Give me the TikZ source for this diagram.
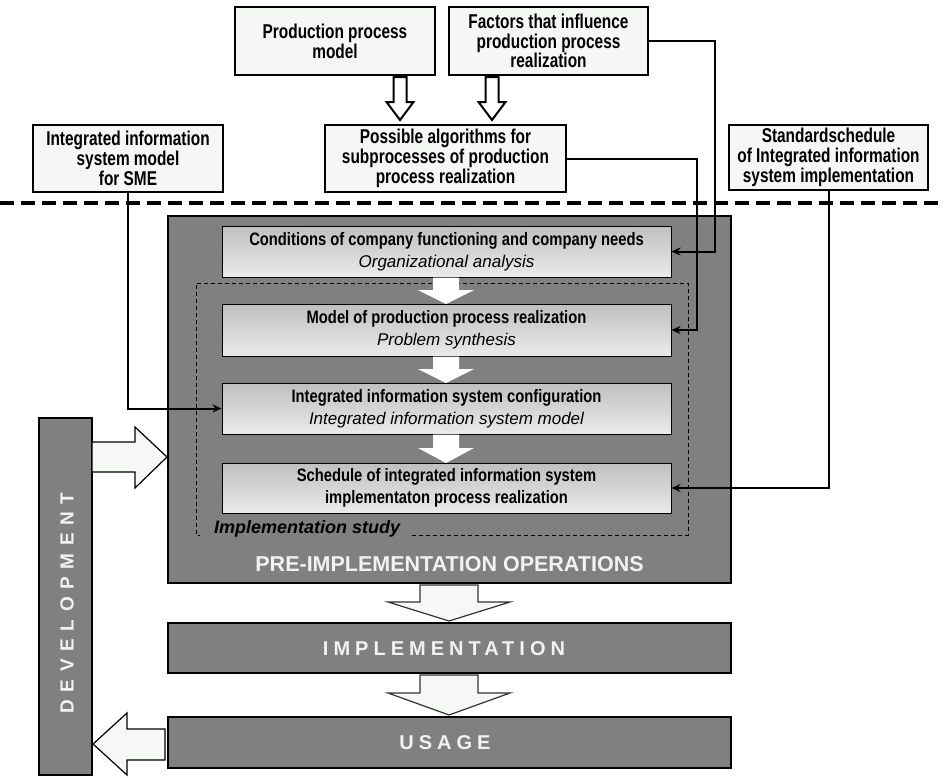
\documentclass[tikz,border=0pt]{standalone}
\usepackage{fontspec}
\setmainfont{Liberation Sans}
\newfontfamily\narrowf[FakeStretch=0.77]{Liberation Sans}
\newfontfamily\midf[FakeStretch=0.82]{Liberation Sans}
\newfontfamily\spacedf[LetterSpace=25]{Liberation Sans}
\newfontfamily\devf[LetterSpace=40]{Liberation Sans}
\usetikzlibrary{arrows.meta,calc}
\definecolor{boxwhite}{HTML}{F5F7F5}
\definecolor{boxgray}{HTML}{808080}
\definecolor{arrowwhite}{HTML}{F6F8F6}
\definecolor{wtext}{HTML}{F2F2F2}
\newcommand{\blockdown}[7]{%
  \draw[#1] ({#2-#6},#3) -- ({#2+#6},#3) -- ({#2+#6},#4) -- ({#2+#7},#4) -- (#2,#5)
    -- ({#2-#7},#4) -- ({#2-#6},#4) -- cycle;}
\begin{document}
\begin{tikzpicture}[x=1pt,y=-1pt,
  topbox/.style={draw=black, line width=2.2pt, fill=boxwhite, align=center,
    font=\narrowf\bfseries\fontsize{20}{19.8}\selectfont, inner sep=2pt},
  innerbox/.style={draw=black, line width=1pt, top color=black!25, bottom color=black!8,
    minimum width=449, align=center, font=\fontsize{17}{22}\selectfont, inner sep=1pt},
  titlef/.style={},
  graybox/.style={draw=black, line width=1.5pt, fill=boxgray},
  bigtext/.style={text=wtext, font=\spacedf\bfseries\fontsize{20}{24}\selectfont},
  conn/.style={line width=2pt, -{Stealth[length=9pt,width=8pt]}},
  hollow/.style={draw=black, line width=2pt, fill=white},
  fatarrow/.style={draw=black!80, line width=1.2pt, fill=arrowwhite, line join=miter},
  innerarrow/.style={fill=white, draw=none}
]
\useasboundingbox (0,0) rectangle (944,777);

% ---- top boxes
\node[topbox, minimum width=200, minimum height=68] (ppm) at (335,41) {Production process\\model};
\node[topbox, minimum width=199, minimum height=68] (fac) at (548.5,41) {Factors that influence\\production process\\realization};
\node[topbox, minimum width=241, minimum height=67] (alg) at (445.5,158.5) {Possible algorithms for\\subprocesses of production\\process realization};
\node[topbox, minimum width=190, minimum height=67] (sme) at (128,158.5) {Integrated information\\system model\\for SME};
\node[topbox, minimum width=199, minimum height=65] (std) at (828.5,157.5) {Standardschedule\\of Integrated information\\system implementation};

\blockdown{hollow}{400}{77}{102}{120}{6.5}{13.5}
\blockdown{hollow}{492}{77}{102}{120}{6.5}{13.5}

% ---- separator
\draw[line width=4pt, dash pattern=on 14pt off 7pt] (0,203) -- (944,203);

% ---- pre-implementation block
\node[graybox, minimum width=563, minimum height=367] (pre) at (449.5,399.5) {};
\draw[line width=0.9pt, dash pattern=on 4pt off 3pt]
  (412,535) -- (688,535) -- (688,283) -- (196,283) -- (196,535) -- (200,535);
\node[anchor=west, font=\bfseries\itshape\fontsize{18}{20}\selectfont, inner sep=0pt] (study) at (214,529) {Implementation study};
\node[bigtext, font=\bfseries\fontsize{21.5}{24}\selectfont] (pretext) at (449.5,564.5) {PRE-IMPLEMENTATION OPERATIONS};

\node[innerbox, minimum height=51] (cond) at (446.5,251.5)
  {{\midf\bfseries\fontsize{18}{22}\selectfont Conditions of company functioning and company needs}\\{\itshape Organizational analysis}};
\node[innerbox, minimum height=52] (model) at (446.5,330)
  {{\midf\bfseries\fontsize{18}{22}\selectfont Model of production process realization}\\{\itshape Problem synthesis}};
\node[innerbox, minimum height=51] (config) at (446.5,408.5)
  {{\midf\bfseries\fontsize{18}{22}\selectfont Integrated information system configuration}\\{\itshape Integrated information system model}};
\node[innerbox, minimum height=50] (sched) at (446.5,488)
  {{\midf\bfseries\fontsize{18}{22}\selectfont Schedule of integrated information system}\\{\midf\bfseries\fontsize{18}{22}\selectfont implementaton process realization}};

\blockdown{innerarrow}{446}{277.5}{290}{304}{13}{28}
\blockdown{innerarrow}{446}{356.5}{369}{383}{13}{28}
\blockdown{innerarrow}{446}{434.5}{448}{463}{13}{28}

% ---- connectors
\draw[conn] (fac.east) -| ($(cond.east)+(43,0)$) -- (cond.east);
\draw[conn] (alg.east) -| ($(model.east)+(25,0)$) -- (model.east);
\draw[conn] (sme.south) |- (config.west);
\draw[conn] (std.south) |- (sched.east);

% ---- implementation and usage
\node[graybox, minimum width=563, minimum height=50] (impl) at (449.5,648) {};
\node[bigtext] (impltext) at (444,648.5) {IMPLEMENTATION};
\node[graybox, minimum width=563, minimum height=51] (usage) at (449.5,742.5) {};
\node[bigtext] (usagetext) at (445,743) {USAGE};

\blockdown{fatarrow}{449}{585}{602}{621}{29}{61}
\blockdown{fatarrow}{449}{675}{693}{715}{29}{61}

% ---- development
\node[graybox, minimum width=53, minimum height=357] (dev) at (65.5,596.5) {};
\node[rotate=90, text=wtext, font=\devf\bfseries\fontsize{19}{22}\selectfont] (devtext) at (67,603) {DEVELOPMENT};

\draw[fatarrow, draw=black] (92,442) -- (135,442) -- (135,427) -- (167,457) -- (135,488) -- (135,472) -- (92,472) -- cycle;
\draw[fatarrow, draw=black] (165,729) -- (127,729) -- (127,713) -- (93,744) -- (127,775) -- (127,760) -- (165,760) -- cycle;
\end{tikzpicture}
\end{document}
